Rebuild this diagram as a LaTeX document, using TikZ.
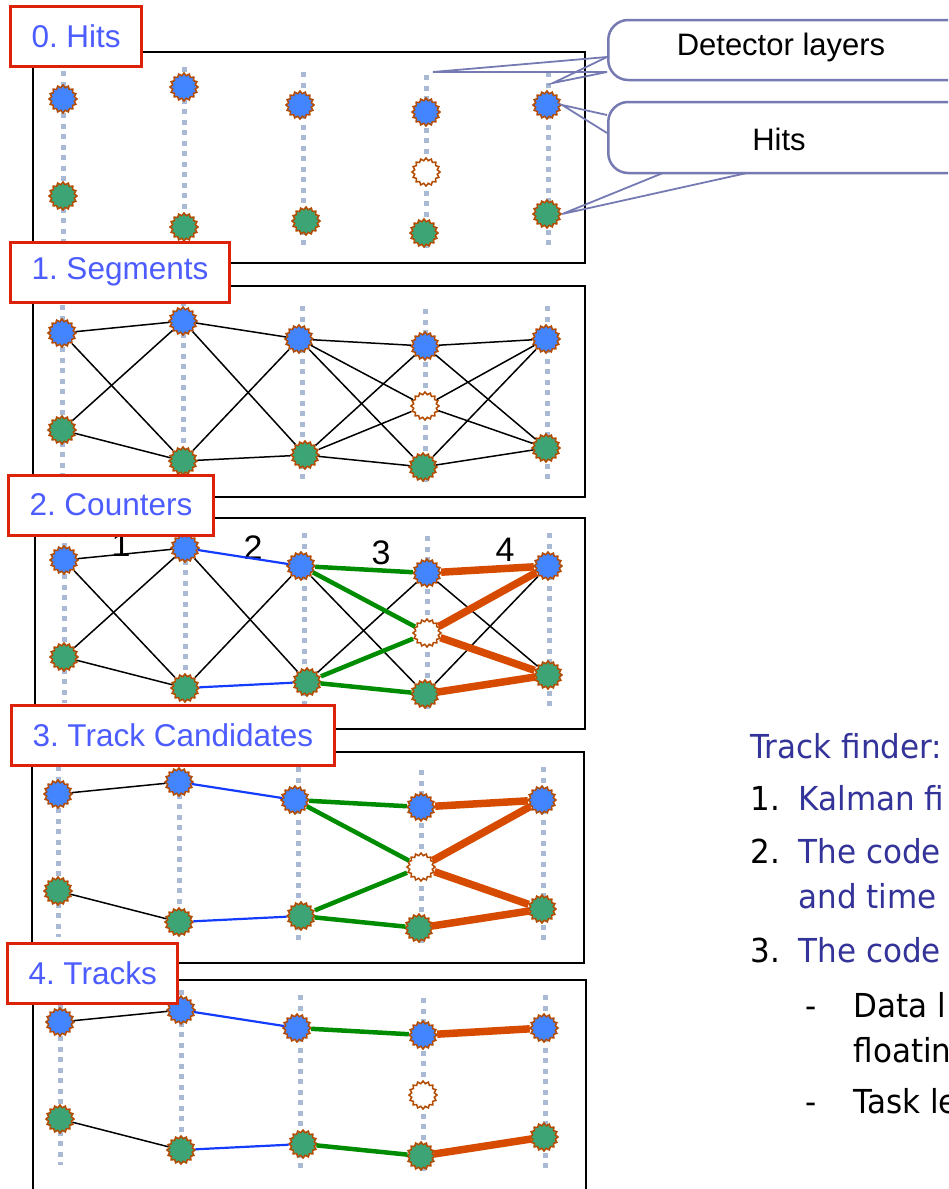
\documentclass[tikz,border=0pt]{standalone}
\usepackage{fontspec}
\setmainfont{Liberation Sans}
\newfontfamily\notefont[FakeStretch=0.94]{DejaVu Sans}
\usepackage{tikz}
\usetikzlibrary{shapes.geometric}
\usepackage{xcolor}
\definecolor{hitblue}{RGB}{66,133,255}
\definecolor{hitgreen}{RGB}{61,165,117}
\definecolor{hitrim}{RGB}{180,75,0}
\definecolor{layergray}{RGB}{170,186,212}
\definecolor{labelred}{RGB}{220,35,10}
\definecolor{labelblue}{RGB}{76,92,255}
\definecolor{segblue}{RGB}{20,60,255}
\definecolor{seggreen}{RGB}{0,140,0}
\definecolor{segorange}{RGB}{215,75,0}
\definecolor{callrim}{RGB}{118,122,178}
\definecolor{notetext}{RGB}{51,51,153}
\frenchspacing

% one panel: five detector layers with their hits, placed from a reference point
\newcommand{\hitlayers}[3]{%
  \begin{scope}[shift={(#2,#3)}]
    \draw[layerline] (0,14) -- (0,185);
    \draw[layerline] (121,10) -- (121,185);
    \draw[layerline] (240,15) -- (240,190);
    \draw[layerline] (363,18) -- (363,193);
    \draw[layerline] (485,15) -- (485,188);
    \node[bluehit] (#1b1) at (0,42) {};
    \node[greenhit] (#1g1) at (0,139) {};
    \node[bluehit] (#1b2) at (121,30) {};
    \node[greenhit] (#1g2) at (121,170) {};
    \node[bluehit] (#1b3) at (237,48) {};
    \node[greenhit] (#1g3) at (243,164) {};
    \node[bluehit] (#1b4) at (363,55) {};
    \node[emptyhit] (#1e4) at (363,115) {};
    \node[greenhit] (#1g4) at (361,176) {};
    \node[bluehit] (#1b5) at (484,48) {};
    \node[greenhit] (#1g5) at (484,157) {};
  \end{scope}}

\begin{document}
\begin{tikzpicture}[
    x=1pt,y=-1pt,
    hit/.style={star,star points=16,star point ratio=1.22,minimum size=28pt,inner sep=0pt,draw=hitrim,line width=1.5pt},
    bluehit/.style={hit,fill=hitblue},
    greenhit/.style={hit,fill=hitgreen},
    emptyhit/.style={hit,fill=white},
    layerline/.style={draw=layergray,line width=5pt,dash pattern=on 5pt off 5.5pt},
    panelbox/.style={draw=black,line width=1.6pt},
    steplabel/.style={draw=labelred,line width=3pt,fill=white,text=labelblue,font=\fontsize{31.5}{38}\selectfont,minimum height=60pt,inner xsep=21pt,anchor=west},
    seg/.style={draw=black,line width=1.5pt},
    segb/.style={draw=segblue,line width=2.2pt},
    segg/.style={draw=seggreen,line width=4.5pt},
    sego/.style={draw=segorange,line width=7.5pt},
    counter/.style={font=\fontsize{34}{40}\selectfont},
    callbox/.style={rectangle,draw=callrim,line width=2.5pt,fill=white,rounded corners=20pt,minimum width=420pt,anchor=west},
    callline/.style={draw=callrim,line width=1.8pt},
    calltext/.style={font=\fontsize{31}{36}\selectfont},
    note/.style={font=\notefont\fontsize{33}{40}\selectfont,anchor=base west}
]
\useasboundingbox (0,0) rectangle (948,1189);
\clip (0,0) rectangle (948,1189);

% 0. hits
\draw[panelbox] (33,52) rectangle (585,263);
\hitlayers{p0}{63}{57}
\node[steplabel] (lab0) at (9,36) {0. Hits};

% 1. segments: every hit joined to every hit on the next layer
\draw[panelbox] (33,286) rectangle (585,497);
\hitlayers{p1}{62}{291}
\foreach \a/\b in {b1/b2,b1/g2,g1/b2,g1/g2,b2/b3,b2/g3,g2/b3,g2/g3,
                   b3/b4,b3/e4,b3/g4,g3/b4,g3/e4,g3/g4,
                   b4/b5,b4/g5,e4/b5,e4/g5,g4/b5,g4/g5}
  \draw[seg] (p1\a) -- (p1\b);
\node[steplabel] (lab1) at (9,272) {1. Segments};

% 2. counters
\draw[panelbox] (35,518) rectangle (585,729);
\hitlayers{p2}{64}{518}
\node[counter] (cnt1) at (121,545) {1};
\node[counter] (cnt2) at (253,548) {2};
\node[counter] (cnt3) at (381,553) {3};
\node[counter] (cnt4) at (505,550) {4};
\foreach \a/\b in {b1/b2,b1/g2,g1/b2,g1/g2,b2/g3,g2/b3,b3/g4,g3/b4,b4/g5,g4/b5}
  \draw[seg] (p2\a) -- (p2\b);
\foreach \a/\b in {b2/b3,g2/g3}
  \draw[segb] (p2\a) -- (p2\b);
\foreach \a/\b in {b3/b4,b3/e4,g3/e4,g3/g4}
  \draw[segg] (p2\a) -- (p2\b);
\foreach \a/\b in {b4/b5,e4/b5,e4/g5,g4/g5}
  \draw[sego] (p2\a) -- (p2\b);
\node[steplabel] (lab2) at (7,505) {2. Counters};

% 3. track candidates
\draw[panelbox] (32,752) rectangle (584,963);
\hitlayers{p3}{58}{752}
\foreach \a/\b in {b1/b2,g1/g2}
  \draw[seg] (p3\a) -- (p3\b);
\foreach \a/\b in {b2/b3,g2/g3}
  \draw[segb] (p3\a) -- (p3\b);
\foreach \a/\b in {b3/b4,b3/e4,g3/e4,g3/g4}
  \draw[segg] (p3\a) -- (p3\b);
\foreach \a/\b in {b4/b5,e4/b5,e4/g5,g4/g5}
  \draw[sego] (p3\a) -- (p3\b);
\node[steplabel] (lab3) at (10,735) {3. Track Candidates};

% 4. tracks
\draw[panelbox] (33,980) rectangle (586,1200);
\hitlayers{p4}{60}{980}
\foreach \a/\b in {b1/b2,g1/g2}
  \draw[seg] (p4\a) -- (p4\b);
\foreach \a/\b in {b2/b3,g2/g3}
  \draw[segb] (p4\a) -- (p4\b);
\foreach \a/\b in {b3/b4,g3/g4}
  \draw[segg] (p4\a) -- (p4\b);
\foreach \a/\b in {b4/b5,g4/g5}
  \draw[sego] (p4\a) -- (p4\b);
\node[steplabel] (lab4) at (6,973) {4. Tracks};

% callouts
\coordinate (layertipA) at (433,72);
\coordinate (layertipB) at (553,83);
\coordinate (layerbaseA) at (607,57);
\coordinate (layerbaseB) at (607,72);
\coordinate (hitbaseA) at (607,115);
\coordinate (hitbaseB) at (607,133);
\coordinate (hitbaseC) at (663,173);
\coordinate (hitbaseD) at (747,173);
\draw[callline] (layerbaseA) -- (layertipA) -- (layerbaseB);
\draw[callline] (layerbaseA) -- (layertipB) -- (layerbaseB);
\draw[callline] (hitbaseA) -- (p0b5.east) -- (hitbaseB);
\draw[callline] (hitbaseC) -- (p0g5.east) -- (hitbaseD);
\node[callbox,minimum height=60pt] (layerbox) at (607,50) {};
\node[calltext] (layertext) at (781,47) {Detector layers};
\node[callbox,minimum height=71pt] (hitsbox) at (607,137.5) {};
\node[calltext] (hitstext) at (779,139) {Hits};

% track finder notes
\node[note,text=notetext] (finder) at (747,758) {Track finder:};
\node[note] (num1) at (747,810) {1.};
\node[note,text=notetext] (item1) at (795,810) {Kalman fi};
\node[note] (num2) at (747,863) {2.};
\node[note,text=notetext] (item2) at (795,863) {The code};
\node[note,text=notetext] (item2b) at (795,908) {and time};
\node[note] (num3) at (747,962) {3.};
\node[note,text=notetext] (item3) at (795,962) {The code};
\node[note] (dash1) at (802,1017) {-};
\node[note] (sub1) at (850,1017) {Data l};
\node[note] (sub1b) at (850,1062) {floatin};
\node[note] (dash2) at (802,1113) {-};
\node[note] (sub2) at (850,1113) {Task le};
\end{tikzpicture}
\end{document}
